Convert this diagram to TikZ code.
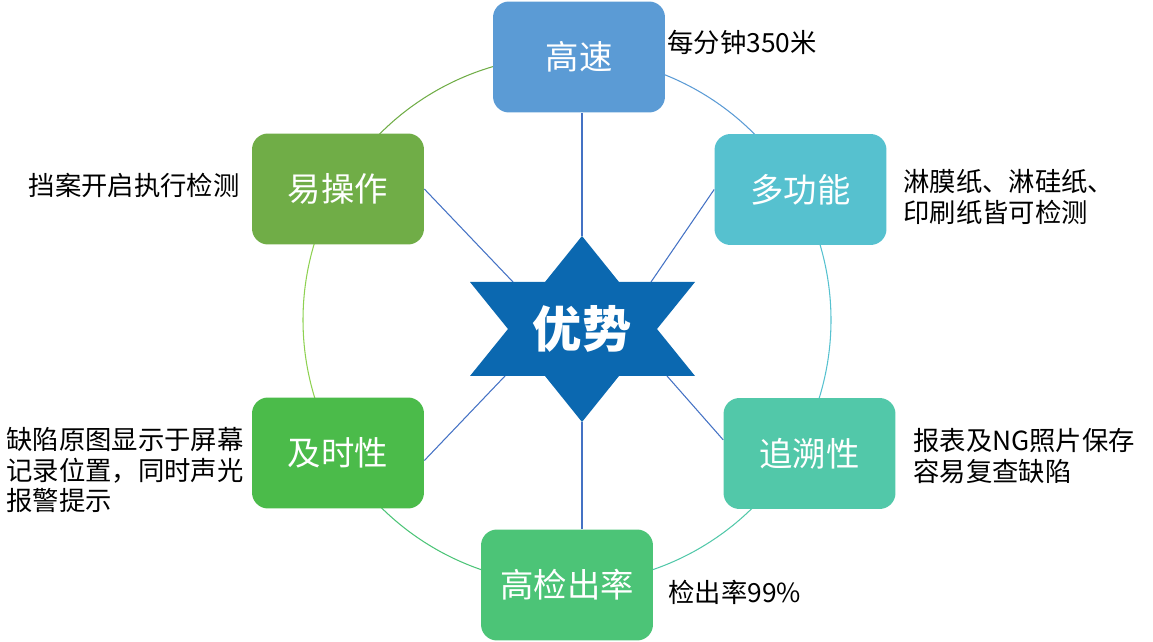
\documentclass[tikz,border=0pt]{standalone}
\usepackage{fontspec}
\setmainfont{Noto Sans CJK SC}
\usepackage{tikz}
\usetikzlibrary{positioning, calc}
\usepackage{xcolor}
\definecolor{gsBlue}{HTML}{5B9BD5}
\definecolor{dgCyan}{HTML}{56C1CF}
\definecolor{zsTeal}{HTML}{52C8A9}
\definecolor{jcGreen}{HTML}{4CC477}
\definecolor{jsGreen}{HTML}{4BBB4A}
\definecolor{ycGreen}{HTML}{70AD47}
\definecolor{limeArc}{HTML}{8ED151}
\definecolor{starBlue}{HTML}{0B68B0}
\definecolor{spokeBlue}{HTML}{4472C4}

\tikzset{
    advbox/.style={rectangle, rounded corners=0.32cm, minimum width=3.44cm, minimum height=2.22cm,
        text=white, font=\fontsize{19}{22}\selectfont},
    note/.style={font=\fontsize{15}{17.5}\selectfont, align=left, inner sep=0pt},
    spoke/.style={draw=spokeBlue, line width=0.6pt}
}

\begin{document}
\begin{tikzpicture}[x=0.02cm, y=0.02cm]
    \useasboundingbox (0,0) rectangle (1153,642);

    % Ring
    \foreach \a/\b/\c in {150/87/ycGreen, 87/29/gsBlue, 29/-29/dgCyan, -29/-90/zsTeal, -90/-150/jcGreen, 210/150/limeArc} {
        \draw[\c, line width=0.6pt] (567,322) ++(\a:264) arc (\a:\b:264);
    }

    % Boxes
    \node[advbox, fill=gsBlue] (gs) at (579,585) {高速};
    \node[advbox, fill=dgCyan] (dg) at (800.5,452.5) {多功能};
    \node[advbox, fill=zsTeal] (zs) at (809.5,188.5) {追溯性};
    \node[advbox, fill=jcGreen] (jc) at (567,57) {高检出率};
    \node[advbox, fill=jsGreen] (js) at (338,189) {及时性};
    \node[advbox, fill=ycGreen] (yc) at (338,453) {易操作};

    % Notes
    \node[note, anchor=west] (gsNote) at (667,600) {每分钟350米};
    \node[note, anchor=west] (dgNote) at (903,445) {淋膜纸、淋硅纸、\\印刷纸皆可检测};
    \node[note, anchor=west] (zsNote) at (913,186) {报表及NG照片保存\\容易复查缺陷};
    \node[note, anchor=west] (jcNote) at (668,50) {检出率99\%};
    \node[note, anchor=west] (jsNote) at (6,172) {缺陷原图显示于屏幕\\记录位置，同时声光\\报警提示};
    \node[note, anchor=east] (ycNote) at (240,457) {挡案开启执行检测};

    % Spokes
    \coordinate (tp) at (582,406);
    \coordinate (bt) at (582,220);
    \coordinate (ul) at (513,360);
    \coordinate (ur) at (651,360);
    \coordinate (lr) at (667,266);
    \coordinate (ll) at (505,266);
    \draw[spoke] (gs.south -| tp) -- (tp);
    \draw[spoke] (dg.west) -- (ur);
    \draw[spoke] (zs.171) -- (lr);
    \draw[spoke] (jc.north -| bt) -- (bt);
    \draw[spoke] (js.-5) -- (ll);
    \draw[spoke] (yc.east) -- (ul);

    % Star
    \fill[starBlue] (582,406) -- (619,360) -- (695,360) -- (657,313) -- (695,266) -- (619,266)
        -- (582,220) -- (545,266) -- (470,266) -- (508,313) -- (470,360) -- (545,360) -- cycle;
    \node[text=white, font=\fontsize{28}{32}\selectfont\bfseries] (adv) at (582,313) {优势};
\end{tikzpicture}
\end{document}
